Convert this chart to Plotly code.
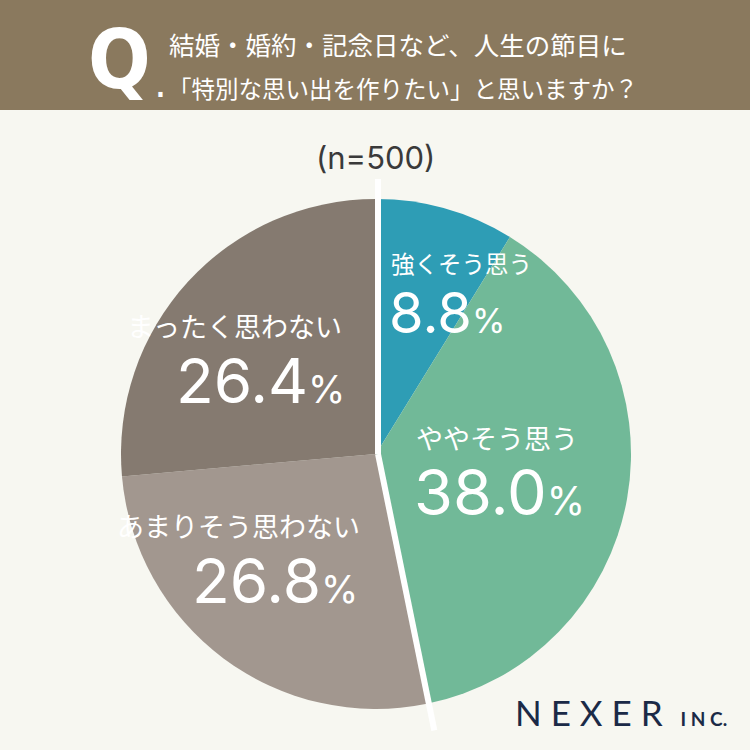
import math
import plotly.graph_objects as go

# ---- data ----
labels = ["強くそう思う", "ややそう思う", "あまりそう思わない", "まったく思わない"]
values = [8.8, 38.0, 26.8, 26.4]
colors = ["#2e9db5", "#71b998", "#a2978f", "#857a70"]
title_lines = ["結婚・婚約・記念日など、人生の節目に", "「特別な思い出を作りたい」と思いますか？"]
sample_note = "(n=500)"

W = H = 750
BG = "#f7f7f1"
HEADER = "#8a795e"
JP = "Noto Sans CJK JP"
NUM = "Inter"

def px(x):
    return x / W

def py(y):
    return 1 - y / H

# pie geometry (pixels)
cx, cy, r = 376, 454, 255

fig = go.Figure(go.Pie(
    labels=labels, values=values, sort=False, direction="clockwise", rotation=0,
    marker=dict(colors=colors, line=dict(width=0)),
    textinfo="none", hoverinfo="label+percent", showlegend=False,
    domain=dict(x=[px(cx - r), px(cx + r)], y=[py(cy + r), py(cy - r)]),
))

shapes = [dict(type="rect", xref="paper", yref="paper", x0=0, x1=1, y0=py(110), y1=1,
               fillcolor=HEADER, line=dict(width=0), layer="below")]

# white separators between positive and negative groups
total = sum(values)
sep_fracs = [0, (values[0] + values[1]) / total]
for f, ext in zip(sep_fracs, [275, 282]):
    a = 2 * math.pi * f
    shapes.append(dict(type="line", xref="paper", yref="paper",
                       x0=px(cx + 2), y0=py(cy),
                       x1=px(cx + 2 + ext * math.sin(a)), y1=py(cy - ext * math.cos(a)),
                       line=dict(color="white", width=6)))

ann = []
# header
ann.append(dict(text="<b>Q</b>", x=px(153), y=py(59), xanchor="right", yanchor="middle",
                font=dict(family="DejaVu Sans Condensed", size=82, color="white"),
                showarrow=False))
ann.append(dict(text="<b>.</b>", x=px(154), y=py(88), xanchor="left", yanchor="middle",
                font=dict(family="DejaVu Sans Condensed", size=26, color="white"),
                showarrow=False))
ann.append(dict(text=title_lines[0], x=px(167), y=py(43), xanchor="left", yanchor="middle",
                font=dict(family=JP, size=25.5, color="white"), showarrow=False))
ann.append(dict(text=title_lines[1], x=px(166), y=py(88), xanchor="left", yanchor="middle",
                font=dict(family=JP, size=23.5, color="white"), showarrow=False))
ann.append(dict(text=sample_note, x=px(375), y=py(157), xanchor="center", yanchor="middle",
                font=dict(family=NUM, size=31, color="#3a3a3a"), showarrow=False))

# slice labels: (anchor, label x, label y, label size, number x, number y, number size)
pos = [
    ("left", 389, 263, 23.5, 387, 313, 56),
    ("left", 414, 437, 27, 412, 492, 63),
    ("right", 362, 525, 27, 360, 580, 62),
    ("right", 344, 325, 27, 347, 380, 62),
]
for lab, v, (anc, lx, ly, ls, nx, ny, ns) in zip(labels, values, pos):
    ann.append(dict(text=lab, x=px(lx), y=py(ly), xanchor=anc, yanchor="middle",
                    font=dict(family=JP, size=ls, color="white"), showarrow=False))
    ann.append(dict(text=f"{v:.1f}<span style='font-size:{int(ns * 0.62)}px'>%</span>",
                    x=px(nx), y=py(ny), xanchor=anc, yanchor="middle",
                    font=dict(family=NUM, size=ns, color="white"), showarrow=False))

# logo
ann.append(dict(text="N E X E R  <span style='font-size:19px'><b>I N C.</b></span>",
                x=px(513), y=py(712), xanchor="left", yanchor="middle",
                font=dict(family="Lato", size=35, color="#1b2a47"), showarrow=False))

fig.update_layout(width=W, height=H, margin=dict(l=0, r=0, t=0, b=0),
                  paper_bgcolor=BG, plot_bgcolor=BG, shapes=shapes, annotations=ann)

fig.write_html("out.html")
